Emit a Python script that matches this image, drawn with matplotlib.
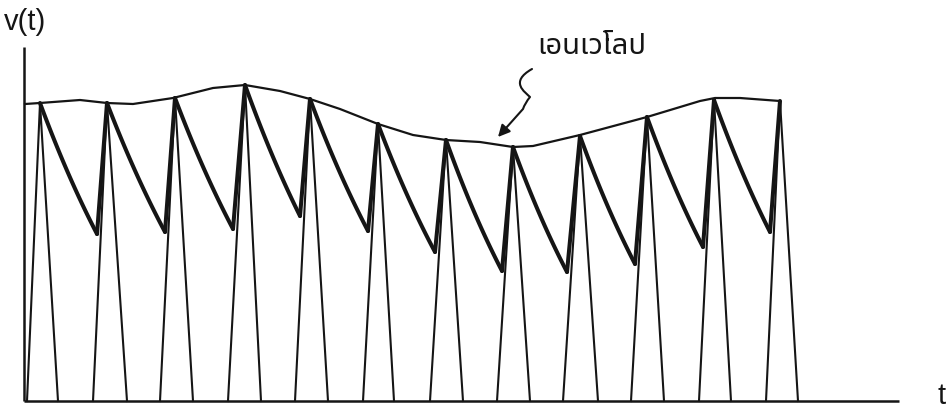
import matplotlib
matplotlib.use("Agg")
import matplotlib.pyplot as plt
from matplotlib import font_manager
from matplotlib.ft2font import FT2Font
from matplotlib.path import Path
from matplotlib.patches import FancyArrowPatch
import numpy as np

# ---- data (t: time from origin, v: voltage above baseline, arbitrary units) ----
peaks_t = [16, 83, 151, 221, 286, 354, 422, 489, 556, 623, 690, 756]
peaks_v = [298, 298, 303, 316, 302, 277, 261, 254, 265, 284, 301, 300]
troughs_t = [73, 141, 209, 276, 344, 411, 478, 543, 611, 679, 746]
troughs_v = [167, 169, 172, 185, 170, 149, 130, 129, 137, 154, 169]
pulse_start_t = [3, 69, 136, 204, 271, 339, 406, 473, 539, 607, 675, 742]
pulse_end_t = [34, 103, 169, 237, 304, 370, 439, 506, 574, 640, 707, 774]
envelope_t = [1, 16, 56, 83, 109, 149, 189, 221, 256, 286, 316, 354, 389, 422,
              456, 489, 509, 556, 623, 676, 691, 716, 756]
envelope_v = [297, 298, 301, 298, 297, 303, 313, 316, 310, 302, 292, 277, 266, 261,
              259, 254, 255, 266, 284, 300, 303, 303, 300]
axis_t_max = 875
axis_v_max = 354
squiggle_t = [508, 493, 506, 499, 474]
squiggle_v = [332, 317, 304, 292, 264]
decay_asymptote = -160

label_v = "v(t)"
label_t = "t"
label_env = "เอนเวโลป"

# ---- find a font with Thai glyphs (prefer a proportional sans) ----
cands = []
for path in font_manager.findSystemFonts():
    try:
        f = FT2Font(path)
        cmap = f.get_charmap()
        if all(ord(c) in cmap for c in label_env):
            fp = font_manager.FontProperties(fname=path)
            cands.append((fp.get_name(), path))
    except Exception:
        continue
pref = ["Noto Sans Thai", "Loma", "Garuda", "Umpush", "Waree", "Sawasdee",
        "Tlwg Typo", "Laksaman", "Kinnari", "Norasi", "Purisa"]
thai_family = None
for p in pref:
    if any(n == p for n, _ in cands):
        thai_family = p
        break
if thai_family is None:
    nonmono = [n for n, _ in cands if "Mono" not in n and "Typ" not in n]
    if nonmono:
        thai_family = nonmono[0]
    elif cands:
        thai_family = cands[0][0]
fam = [thai_family, "DejaVu Sans"] if thai_family else ["DejaVu Sans"]

ink = "#151515"

fig = plt.figure(figsize=(9.46, 4.14), dpi=100)
ax = fig.add_axes([0, 0, 1, 1])
ax.set_xlim(-24, 922)
ax.set_ylim(-12, 402)
ax.axis("off")

# axes lines
ax.plot([0, 0], [0, axis_v_max], color=ink, lw=1.8, solid_capstyle="butt")
ax.plot([0, axis_t_max], [0, 0], color=ink, lw=1.8, solid_capstyle="butt")

# thin pulses
for s, p, pv, e in zip(pulse_start_t, peaks_t, peaks_v, pulse_end_t):
    ax.plot([s, p, e], [0, pv, 0], color=ink, lw=1.5, solid_joinstyle="miter")

# thick detector output: RC decay from each peak to trough, then rise to next peak
for i in range(len(troughs_t)):
    tp, vp = peaks_t[i], peaks_v[i]
    tt, vt = troughs_t[i], troughs_v[i]
    ts = np.linspace(tp, tt, 40)
    a = decay_asymptote
    vs = a + (vp - a) * ((vt - a) / (vp - a)) ** ((ts - tp) / (tt - tp))
    ax.plot(ts, vs, color=ink, lw=2.9, solid_capstyle="round")
    ax.plot([tt, peaks_t[i + 1]], [vt, peaks_v[i + 1]], color=ink, lw=2.9,
            solid_capstyle="round")

# envelope
ax.plot(envelope_t, envelope_v, color=ink, lw=1.6, solid_joinstyle="round")

# squiggle arrow
verts = [(squiggle_t[0], squiggle_v[0]),
         (squiggle_t[1] - 8, squiggle_v[1] + 2),
         (squiggle_t[1] + 8, squiggle_v[1] - 8),
         (squiggle_t[2], squiggle_v[2]),
         (squiggle_t[2] - 5, squiggle_v[2] - 6),
         (squiggle_t[3], squiggle_v[3]),
         (squiggle_t[4], squiggle_v[4])]
codes = [Path.MOVETO, Path.CURVE4, Path.CURVE4, Path.CURVE4,
         Path.CURVE3, Path.CURVE3, Path.LINETO]
arrow = FancyArrowPatch(path=Path(verts, codes),
                        arrowstyle="-|>,head_length=7,head_width=3.5",
                        color=ink, lw=1.5)
ax.add_patch(arrow)

# labels
ax.text(-20, 380, label_v, fontsize=21, family=["Liberation Sans", "DejaVu Sans"],
        color=ink, ha="left", va="center")
ax.text(922, 6, label_t, fontsize=21, family=["Liberation Sans", "DejaVu Sans"],
        color=ink, ha="right", va="center")
ax.text(568, 356, label_env, fontsize=21, family=fam, fontweight="bold", color=ink,
        ha="center", va="center")

fig.savefig("out.png", dpi=100)
